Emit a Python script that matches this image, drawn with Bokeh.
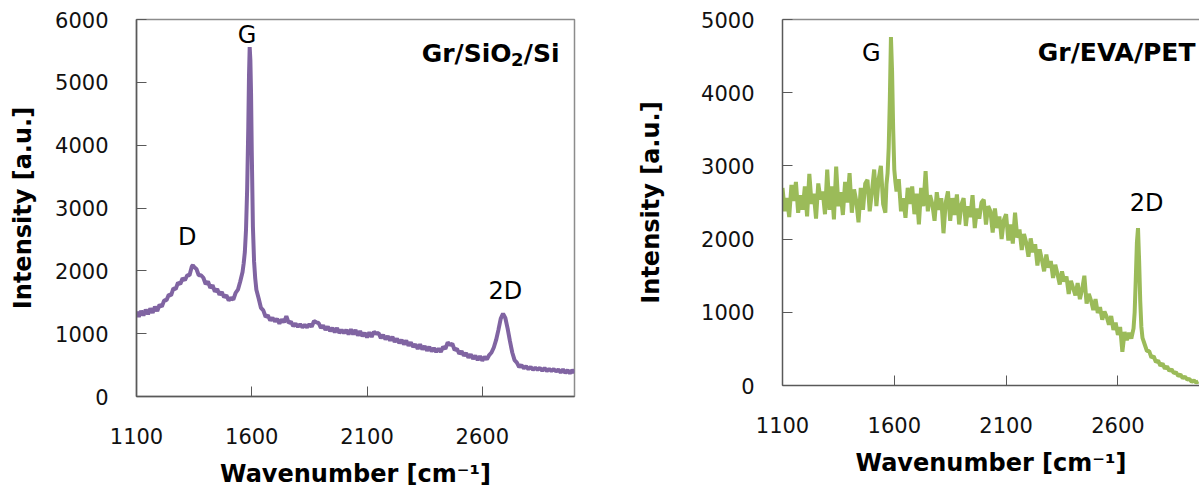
from bokeh.plotting import figure
from bokeh.models import Range1d, FixedTicker, Label, LinearAxis, ColumnDataSource
from bokeh.layouts import row
from bokeh.embed import file_html
from bokeh.resources import INLINE

# ---------------- data ----------------
x_ticks = [1100, 1600, 2100, 2600]
sio2_y_ticks = [0, 1000, 2000, 3000, 4000, 5000, 6000]
eva_y_ticks = [0, 1000, 2000, 3000, 4000, 5000]

sio2_wavenumber = [
    1100, 1110, 1120, 1130, 1140, 1150, 1160, 1170, 1180, 1190,
    1200, 1210, 1220, 1230, 1240, 1250, 1260, 1270, 1280, 1290,
    1300, 1310, 1320, 1330, 1340, 1345, 1350, 1360, 1370, 1380,
    1390, 1400, 1410, 1420, 1430, 1440, 1450, 1460, 1470, 1480,
    1490, 1500, 1510, 1520, 1530, 1540, 1550, 1560, 1565, 1570,
    1575, 1580, 1585, 1588, 1591, 1594, 1597, 1600, 1605, 1610,
    1615, 1620, 1630, 1640, 1650, 1660, 1670, 1680, 1690, 1700,
    1710, 1720, 1730, 1740, 1750, 1760, 1770, 1780, 1790, 1800,
    1810, 1820, 1830, 1840, 1850, 1860, 1870, 1880, 1890, 1900,
    1910, 1920, 1930, 1940, 1950, 1960, 1970, 1980, 1990, 2000,
    2010, 2020, 2030, 2040, 2050, 2060, 2070, 2080, 2090, 2100,
    2110, 2120, 2130, 2140, 2150, 2160, 2170, 2180, 2190, 2200,
    2210, 2220, 2230, 2240, 2250, 2260, 2270, 2280, 2290, 2300,
    2310, 2320, 2330, 2340, 2350, 2360, 2370, 2380, 2390, 2400,
    2410, 2420, 2430, 2440, 2450, 2460, 2470, 2480, 2490, 2500,
    2510, 2520, 2530, 2540, 2550, 2560, 2570, 2580, 2590, 2600,
    2610, 2620, 2630, 2640, 2650, 2660, 2670, 2680, 2690, 2700,
    2710, 2720, 2730, 2740, 2750, 2760, 2770, 2780, 2790, 2800,
    2810, 2820, 2830, 2840, 2850, 2860, 2870, 2880, 2890, 2900,
    2910, 2920, 2930, 2940, 2950, 2960, 2970, 2980, 2990, 3000,
]
sio2_intensity = [
    1350, 1270, 1360, 1290, 1380, 1310, 1400, 1330, 1430, 1360,
    1460, 1430, 1530, 1530, 1620, 1610, 1720, 1710, 1810, 1790,
    1880, 1850, 1930, 1930, 2070, 2090, 2060, 2030, 1930, 1930,
    1890, 1790, 1830, 1730, 1770, 1670, 1710, 1620, 1660, 1580,
    1610, 1530, 1570, 1540, 1650, 1700, 1830, 1980, 2120, 2300,
    2650, 3300, 4300, 5100, 5560, 5350, 4800, 3900, 2700, 2150,
    1880, 1700, 1560, 1410, 1370, 1270, 1290, 1210, 1250, 1195,
    1235, 1160, 1225, 1180, 1280, 1170, 1190, 1120, 1160, 1110,
    1150, 1100, 1140, 1100, 1150, 1110, 1200, 1180, 1170, 1090,
    1130, 1060, 1110, 1040, 1090, 1020, 1090, 1010, 1060, 1010,
    1060, 990, 1070, 990, 1060, 970, 1040, 960, 1010, 940,
    1020, 950, 1030, 1000, 1010, 930, 980, 910, 960, 890,
    950, 870, 920, 850, 900, 830, 890, 810, 860, 790,
    830, 760, 830, 750, 800, 730, 790, 720, 770, 710,
    760, 710, 790, 760, 860, 820, 840, 740, 760, 680,
    720, 650, 690, 620, 670, 600, 650, 580, 640, 570,
    630, 590, 660, 700, 780, 900, 1060, 1240, 1320, 1250,
    1080, 880, 700, 580, 540, 470, 500, 450, 480, 435,
    470, 425, 460, 425, 455, 410, 455, 405, 440, 405,
    435, 400, 430, 380, 430, 375, 420, 370, 420, 375,
]

eva_wavenumber = [
    1100, 1110, 1120, 1130, 1140, 1150, 1160, 1170, 1180, 1190,
    1200, 1210, 1220, 1230, 1240, 1250, 1260, 1270, 1280, 1290,
    1300, 1310, 1320, 1330, 1340, 1350, 1360, 1370, 1380, 1390,
    1400, 1410, 1420, 1430, 1440, 1450, 1460, 1470, 1480, 1490,
    1500, 1510, 1520, 1530, 1540, 1550, 1560, 1565, 1570, 1575,
    1580, 1585, 1590, 1595, 1600, 1605, 1610, 1620, 1630, 1640,
    1650, 1660, 1670, 1680, 1690, 1700, 1710, 1720, 1730, 1740,
    1750, 1760, 1770, 1780, 1790, 1800, 1810, 1820, 1830, 1840,
    1850, 1860, 1870, 1880, 1890, 1900, 1910, 1920, 1930, 1940,
    1950, 1960, 1970, 1980, 1990, 2000, 2010, 2020, 2030, 2040,
    2050, 2060, 2070, 2080, 2090, 2100, 2110, 2120, 2130, 2140,
    2150, 2160, 2170, 2180, 2190, 2200, 2210, 2220, 2230, 2240,
    2250, 2260, 2270, 2280, 2290, 2300, 2310, 2320, 2330, 2340,
    2350, 2360, 2370, 2380, 2390, 2400, 2410, 2420, 2430, 2440,
    2450, 2460, 2470, 2480, 2490, 2500, 2510, 2520, 2530, 2540,
    2550, 2560, 2570, 2580, 2590, 2600, 2610, 2620, 2630, 2640,
    2650, 2660, 2670, 2675, 2680, 2685, 2690, 2695, 2700, 2705,
    2710, 2720, 2730, 2740, 2750, 2760, 2770, 2780, 2790, 2800,
    2810, 2820, 2830, 2840, 2850, 2860, 2870, 2880, 2890, 2900,
    2910, 2920, 2930, 2940, 2950, 2960,
]
eva_intensity = [
    2700, 2380, 2560, 2300, 2740, 2520, 2780, 2360, 2600, 2400,
    2720, 2310, 2890, 2480, 2620, 2280, 2760, 2540, 2650, 2340,
    2950, 2400, 2720, 2270, 2990, 2450, 2640, 2330, 2780, 2500,
    2900, 2360, 2680, 2520, 2230, 2700, 2400, 2760, 2810, 2380,
    2650, 2950, 2450, 2820, 3000, 2480, 2360, 2750, 2900, 3250,
    3900, 4760, 4300, 3500, 2950, 2780, 2650, 2820, 2380, 2560,
    2290, 2700, 2480, 2720, 2340, 2620, 2200, 2700, 2450, 2930,
    2380, 2600, 2480, 2250, 2640, 2400, 2560, 2080, 2500, 2650,
    2250, 2560, 2330, 2610, 2200, 2470, 2560, 2180, 2450, 2300,
    2600, 2150, 2420, 2280, 2500, 2540, 2200, 2450, 2380, 2090,
    2420, 2150, 2310, 2000, 2260, 2340, 1980, 2200, 1940, 2360,
    2020, 2130, 1850, 2070, 1950, 1760, 2010, 1820, 1930, 1640,
    1860, 1720, 1560, 1790, 1610, 1700, 1470, 1650, 1520, 1380,
    1560, 1420, 1490, 1250, 1430, 1330, 1230, 1400, 1180, 1310,
    1500, 1120, 1250, 1160, 1030, 1180, 990, 1070, 900, 1010,
    940, 830, 950, 760, 860, 690, 800, 460, 730, 620,
    720, 640, 780, 1000, 1450, 1950, 2150, 1700, 1150, 800,
    650, 560, 470, 470, 380, 400, 320, 340, 270, 300,
    230, 260, 200, 220, 170, 180, 130, 150, 100, 120,
    80, 90, 50, 70, 40, 55,
]

# ---------------- style ----------------
AXIS_COL = "#595959"
FRAME_COL = "#8c8c8c"
PURPLE = "#8064a2"
GREEN = "#9bbb59"
LABEL_LIFT = 9


def style(p, y_ticks, ylabel_standoff):
    p.xgrid.visible = False
    p.ygrid.visible = False
    p.background_fill_color = "white"
    p.border_fill_color = "white"
    p.xaxis.ticker = FixedTicker(ticks=x_ticks)
    p.yaxis.ticker = FixedTicker(ticks=y_ticks)
    for ax in (p.xaxis[0], p.yaxis[0]):
        ax.axis_line_color = AXIS_COL
        ax.axis_line_width = 1.5
        ax.major_tick_line_color = AXIS_COL
        ax.major_tick_line_width = 1
        ax.major_tick_in = 10
        ax.major_tick_out = 0
        ax.minor_tick_line_color = None
        ax.major_label_text_font = "DejaVu Sans"
        ax.major_label_text_font_size = "21px"
        ax.major_label_text_color = "#111111"
        ax.axis_label_text_font = "DejaVu Sans"
        ax.axis_label_text_font_style = "bold"
        ax.axis_label_text_font_size = "24px"
        ax.axis_label_text_color = "#000000"
        ax.major_label_standoff = 28
    p.xaxis.major_label_standoff = 31
    p.xaxis.axis_label_standoff = 13
    p.yaxis.axis_label_standoff = ylabel_standoff
    p.xaxis.axis_label = "Wavenumber [cm\u207b\u00b9]"
    p.yaxis.axis_label = "Intensity [a.u.]"


def peak_label(p, x, y, text):
    p.add_layout(Label(x=x, y=y, y_offset=LABEL_LIFT, text=text,
                       text_align="center", text_baseline="alphabetic",
                       text_font="DejaVu Sans", text_font_size="24px",
                       text_color="#000000"))


# ---------------- left panel: Gr/SiO2/Si ----------------
p1 = figure(width=632, height=491, output_backend="svg", toolbar_location=None,
            x_range=Range1d(1100, 3000), y_range=Range1d(0, 6000),
            min_border_left=136, min_border_right=58, min_border_top=19,
            min_border_bottom=94)
style(p1, sio2_y_ticks, 15)
p1.outline_line_color = FRAME_COL
p1.outline_line_width = 1.5
src1 = ColumnDataSource(dict(x=sio2_wavenumber, y=sio2_intensity))
p1.line("x", "y", source=src1, line_color=PURPLE, line_width=4)

peak_label(p1, 1320, 2400, "D")
peak_label(p1, 1580, 5610, "G")
peak_label(p1, 2700, 1530, "2D")

# title with subscript
tx, ty = 2935, 5310
for txt, size, xo, yo in [("/Si", "25px", 0, 0), ("2", "18px", -36, -6),
                          ("Gr/SiO", "25px", -48, 0)]:
    p1.add_layout(Label(x=tx, y=ty, x_offset=xo, y_offset=yo + LABEL_LIFT,
                        text=txt, text_align="right", text_baseline="alphabetic",
                        text_font="DejaVu Sans", text_font_style="bold",
                        text_font_size=size, text_color="#000000"))

# ---------------- right panel: Gr/EVA/PET ----------------
p2 = figure(width=567, height=480, output_backend="svg", toolbar_location=None,
            x_range=Range1d(1100, 2965), y_range=Range1d(0, 5000),
            min_border_left=150, min_border_right=0, min_border_top=19,
            min_border_bottom=95)
style(p2, eva_y_ticks, 33)
p2.outline_line_color = None
top_axis = LinearAxis(ticker=FixedTicker(ticks=[]), axis_line_color=FRAME_COL,
                      axis_line_width=1.5, major_tick_line_color=None,
                      minor_tick_line_color=None, major_label_standoff=0,
                      axis_label_standoff=0)
p2.add_layout(top_axis, "above")
src2 = ColumnDataSource(dict(x=eva_wavenumber, y=eva_intensity))
p2.line("x", "y", source=src2, line_color=GREEN, line_width=4)

peak_label(p2, 1497, 4420, "G")
peak_label(p2, 2728, 2370, "2D")
p2.add_layout(Label(x=2947, y=4420, y_offset=LABEL_LIFT, text="Gr/EVA/PET",
                    text_align="right", text_baseline="alphabetic",
                    text_font="DejaVu Sans", text_font_style="bold",
                    text_font_size="25px", text_color="#000000"))

layout = row(p1, p2)
open("out.html", "w").write(file_html(layout, INLINE))
